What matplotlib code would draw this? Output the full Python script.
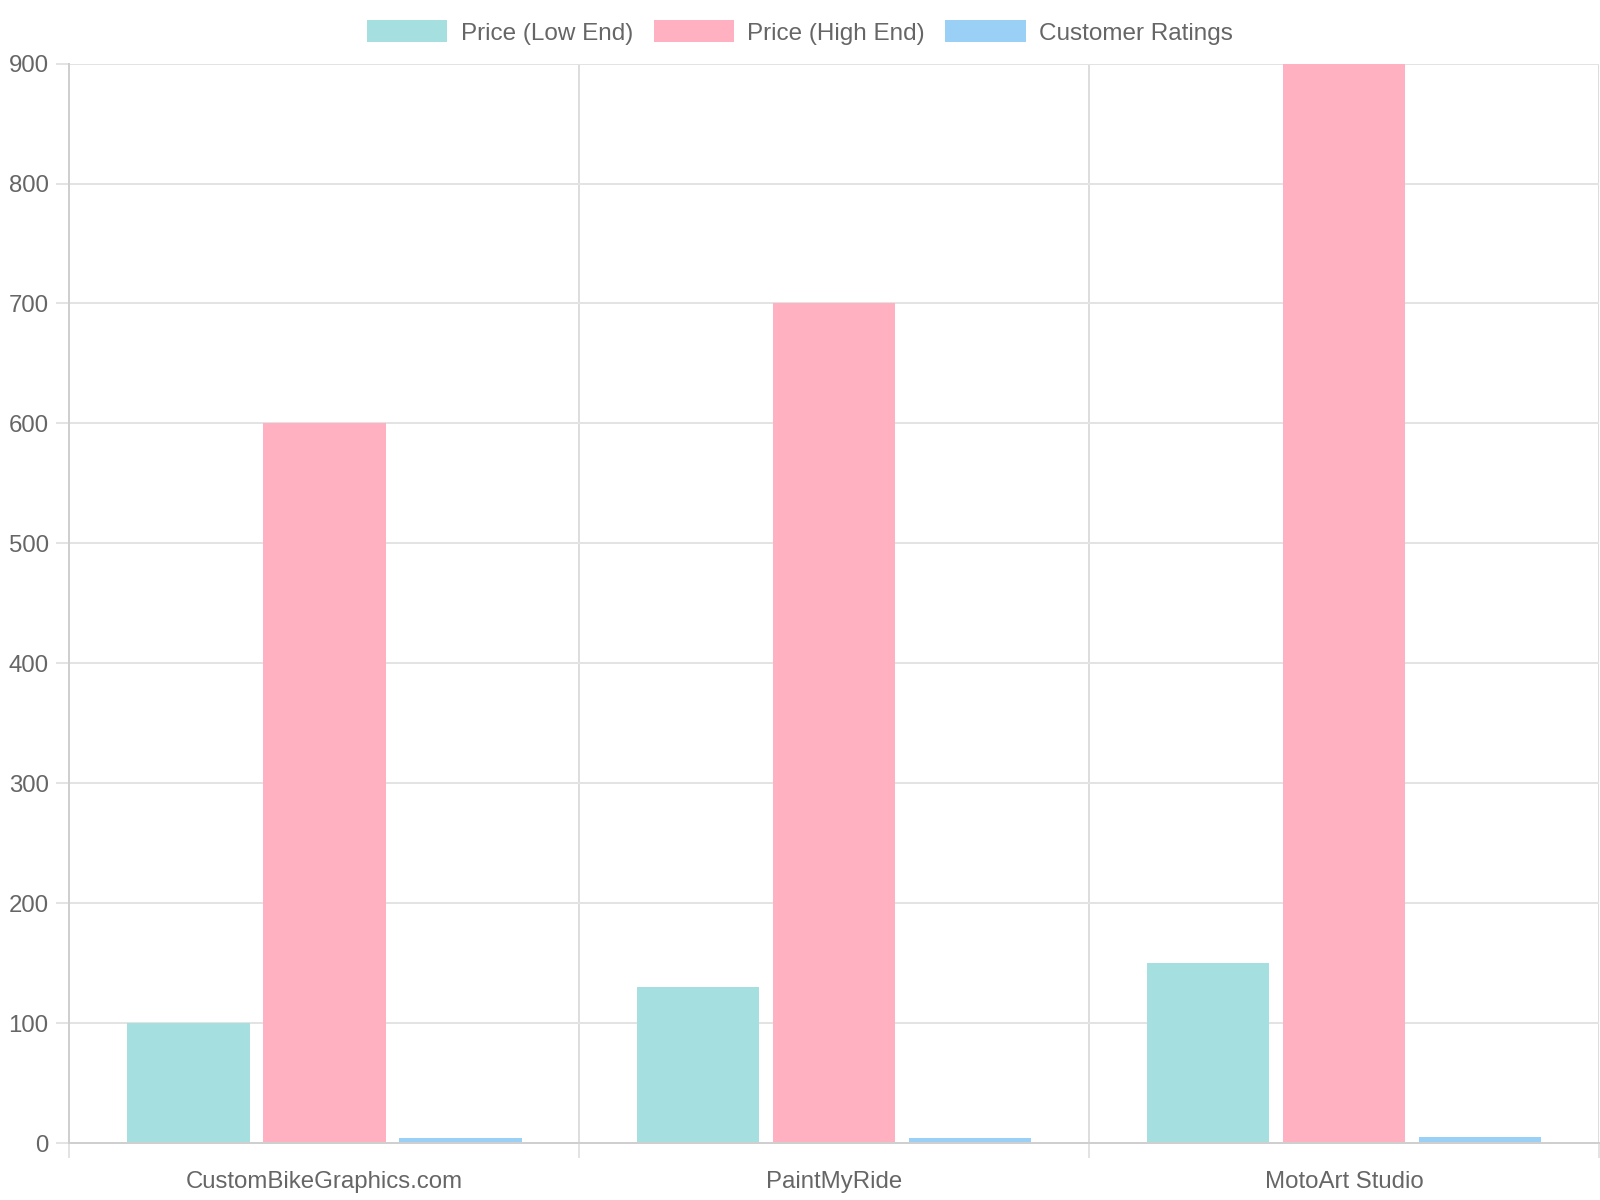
import matplotlib.pyplot as plt
from matplotlib.patches import Patch
import numpy as np

plt.rcParams["font.family"] = ["Liberation Sans", "DejaVu Sans"]

# 데이터
studios = ["CustomBikeGraphics.com", "PaintMyRide", "MotoArt Studio"]
price_low = [100, 130, 150]
price_high = [600, 700, 900]
ratings = [4.5, 4.2, 4.8]
series_names = ["Price (Low End)", "Price (High End)", "Customer Ratings"]
colors = ["#A5DFDF", "#FFB1C1", "#9AD0F5"]

fig = plt.figure(figsize=(16, 12), dpi=100)
ax = fig.add_axes([0.0434, 0.0475, 0.9560, 0.8995])

x = np.arange(len(studios))
slot = 0.8 / 3
width = slot * 0.9
for i, vals in enumerate([price_low, price_high, ratings]):
    ax.bar(x + (i - 1) * slot, vals, width, color=colors[i], zorder=2)

ax.set_xlim(-0.5, len(studios) - 0.5)
ax.set_ylim(0, 900)
ax.set_yticks(range(0, 901, 100))

ax.set_xticks(x)
ax.set_xticklabels(studios)
ax.set_xticks(np.arange(-0.5, len(studios), 1.0), minor=True)

grid_c = "#E3E3E3"
ax.grid(True, axis="y", color=grid_c, lw=1.44, zorder=0)
ax.grid(True, axis="x", which="minor", color="#DDDDDD", lw=1.44, zorder=0)
ax.grid(False, axis="x", which="major")

ax.tick_params(axis="y", length=9.4, width=1.44, color=grid_c, pad=5.5,
               labelsize=17.3, labelcolor="#666666")
ax.tick_params(axis="x", which="major", length=0, pad=20, labelsize=17.3,
               labelcolor="#666666")
ax.tick_params(axis="x", which="minor", length=11, width=1.44, color=grid_c)

for s in ["top", "right"]:
    ax.spines[s].set_visible(False)
for s in ["left", "bottom"]:
    ax.spines[s].set_color("#CFCFCF")
    ax.spines[s].set_linewidth(1.44)

handles = [Patch(facecolor=c, edgecolor="none") for c in colors]
fig.legend(handles, series_names, loc="center", bbox_to_anchor=(0.5, 1 - 32.5 / 1200),
           ncol=3, frameon=False, fontsize=17.5, labelcolor="#666666",
           handlelength=3.3, handleheight=1.0, handletextpad=0.55,
           columnspacing=0.85, borderpad=0)

fig.savefig("out.png", dpi=100)
